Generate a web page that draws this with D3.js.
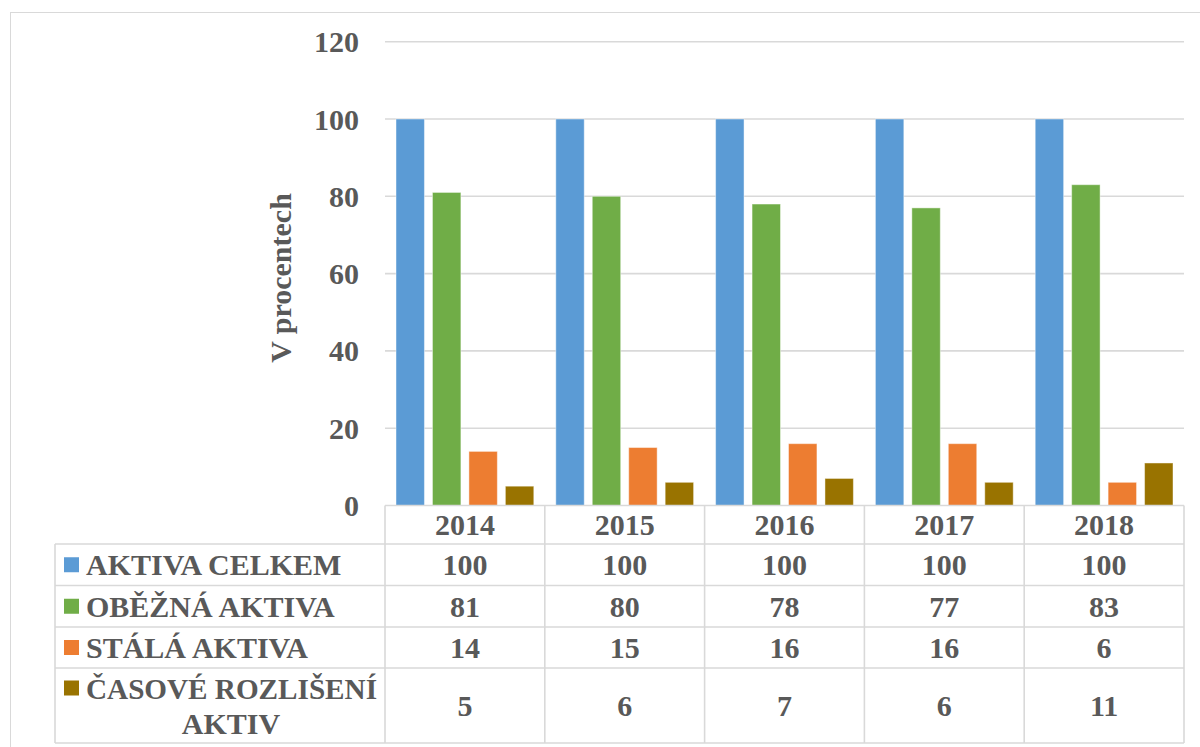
<!DOCTYPE html>
<html>
<head>
<meta charset="utf-8">
<script src="https://cdn.jsdelivr.net/npm/d3@7"></script>
<style>
  html, body { margin: 0; padding: 0; background: #fff; }
  svg { display: block; }
  text { font-family: "Liberation Serif", "Times New Roman", serif; font-weight: bold; fill: #595959; }
</style>
</head>
<body>
<svg id="chart" width="1200" height="747"></svg>
<script>
// Years shown along the category axis
const years = ["2014", "2015", "2016", "2017", "2018"];

// Series names (data-table legend column) and their colours
const seriesNames = ["AKTIVA CELKEM", "OBĚŽNÁ AKTIVA", "STÁLÁ AKTIVA", "ČASOVÉ ROZLIŠENÍ AKTIV"];
const seriesColors = ["#5B9BD5", "#70AD47", "#ED7D31", "#997300"];

// Values in percent, one array per series
const aktivaCelkem = [100, 100, 100, 100, 100];
const obeznaAktiva = [81, 80, 78, 77, 83];
const stalaAktiva = [14, 15, 16, 16, 6];
const casoveRozliseni = [5, 6, 7, 6, 11];

// Value-axis ticks
const yTicks = [0, 20, 40, 60, 80, 100, 120];
const yTitle = "V procentech";

const seriesValues = [aktivaCelkem, obeznaAktiva, stalaAktiva, casoveRozliseni];

const svg = d3.select("#chart");
const gridColor = "#d9d9d9";
const fontSize = 30;

// Outer chart frame
svg.append("rect")
  .attr("x", 10.5).attr("y", 12.5)
  .attr("width", 1250).attr("height", 800)
  .attr("fill", "none").attr("stroke", gridColor).attr("stroke-width", 1);

const plotLeft = 385, plotRight = 1184;
const y = d3.scaleLinear().domain([0, 120]).range([505.5, 41.7]);
const x0 = d3.scaleBand().domain(years).range([plotLeft, plotRight]).padding(0);
const x1 = d3.scaleBand().domain(d3.range(seriesNames.length))
  .range([11, x0.bandwidth() - 11]).paddingInner(0.22).paddingOuter(0);

// Horizontal gridlines
svg.append("g").selectAll("line")
  .data(yTicks.filter(t => t > 0))
  .join("line")
  .attr("x1", plotLeft).attr("x2", plotRight)
  .attr("y1", d => y(d)).attr("y2", d => y(d))
  .attr("stroke", gridColor).attr("stroke-width", 1.6);

// Value axis labels
svg.append("g").selectAll("text")
  .data(yTicks)
  .join("text")
  .attr("x", 359).attr("y", d => y(d))
  .attr("dy", "0.35em")
  .attr("text-anchor", "end")
  .attr("font-size", fontSize)
  .text(d => d);

// Axis title
svg.append("text")
  .attr("transform", "translate(291,278) rotate(-90)")
  .attr("text-anchor", "middle")
  .attr("font-size", fontSize)
  .text(yTitle);

// Clustered bars
const groups = svg.append("g").selectAll("g")
  .data(years)
  .join("g")
  .attr("transform", d => `translate(${x0(d)},0)`);

groups.selectAll("rect")
  .data((yr, i) => seriesValues.map((vals, s) => ({ s, v: vals[i] })))
  .join("rect")
  .attr("x", d => x1(d.s))
  .attr("width", x1.bandwidth())
  .attr("y", d => y(d.v))
  .attr("height", d => y(0) - y(d.v))
  .attr("fill", d => seriesColors[d.s])
  .attr("stroke", "rgba(255,255,255,0.45)")
  .attr("stroke-width", 1);

// Data table below the plot
const rowEdges = [505.5, 544, 585.5, 627, 668, 743];
const tableLeft = 55;
const table = svg.append("g");

// Horizontal table lines
table.selectAll("line.h")
  .data(rowEdges)
  .join("line")
  .attr("class", "h")
  .attr("x1", (d, i) => i === 0 ? plotLeft : tableLeft)
  .attr("x2", plotRight)
  .attr("y1", d => d).attr("y2", d => d)
  .attr("stroke", gridColor).attr("stroke-width", 1.6);

// Vertical table lines
const colEdges = [plotLeft].concat(years.map(yr => x0(yr) + x0.bandwidth()));
table.selectAll("line.v")
  .data(colEdges)
  .join("line")
  .attr("class", "v")
  .attr("x1", d => d).attr("x2", d => d)
  .attr("y1", rowEdges[0]).attr("y2", rowEdges[rowEdges.length - 1])
  .attr("stroke", gridColor).attr("stroke-width", 1.6);
table.append("line")
  .attr("x1", tableLeft).attr("x2", tableLeft)
  .attr("y1", rowEdges[1]).attr("y2", rowEdges[rowEdges.length - 1])
  .attr("stroke", gridColor).attr("stroke-width", 1.6);

// Year header row
table.selectAll("text.year")
  .data(years)
  .join("text")
  .attr("class", "year")
  .attr("x", d => x0(d) + x0.bandwidth() / 2)
  .attr("y", (rowEdges[0] + rowEdges[1]) / 2)
  .attr("dy", "0.35em")
  .attr("text-anchor", "middle")
  .attr("font-size", fontSize)
  .text(d => d);

// Series rows: legend key, name and values
seriesNames.forEach((name, s) => {
  const top = rowEdges[s + 1], bottom = rowEdges[s + 2];
  const mid = (top + bottom) / 2;
  const words = s === 3 ? ["ČASOVÉ ROZLIŠENÍ", "AKTIV"] : [name];
  const lineGap = 35;
  const firstY = mid - (words.length - 1) * lineGap / 2;

  table.append("rect")
    .attr("x", 64).attr("y", firstY - 7.5)
    .attr("width", 15).attr("height", 15)
    .attr("fill", seriesColors[s]);

  const label = table.append("text")
    .attr("font-size", fontSize);
  words.forEach((w, k) => {
    const t = label.append("tspan")
      .attr("x", k === 0 ? 86 : 231)
      .attr("text-anchor", k === 0 ? "start" : "middle")
      .attr("y", firstY + k * lineGap)
      .attr("dy", "0.35em")
      .text(w);
    // keep the wrapped first line inside the legend column
    if (words.length > 1 && k === 0) {
      t.attr("textLength", 291).attr("lengthAdjust", "spacingAndGlyphs");
    }
  });

  table.selectAll(null)
    .data(seriesValues[s])
    .join("text")
    .attr("x", (d, i) => x0(years[i]) + x0.bandwidth() / 2)
    .attr("y", mid)
    .attr("dy", "0.35em")
    .attr("text-anchor", "middle")
    .attr("font-size", fontSize)
    .text(d => d);
});
</script>
</body>
</html>
